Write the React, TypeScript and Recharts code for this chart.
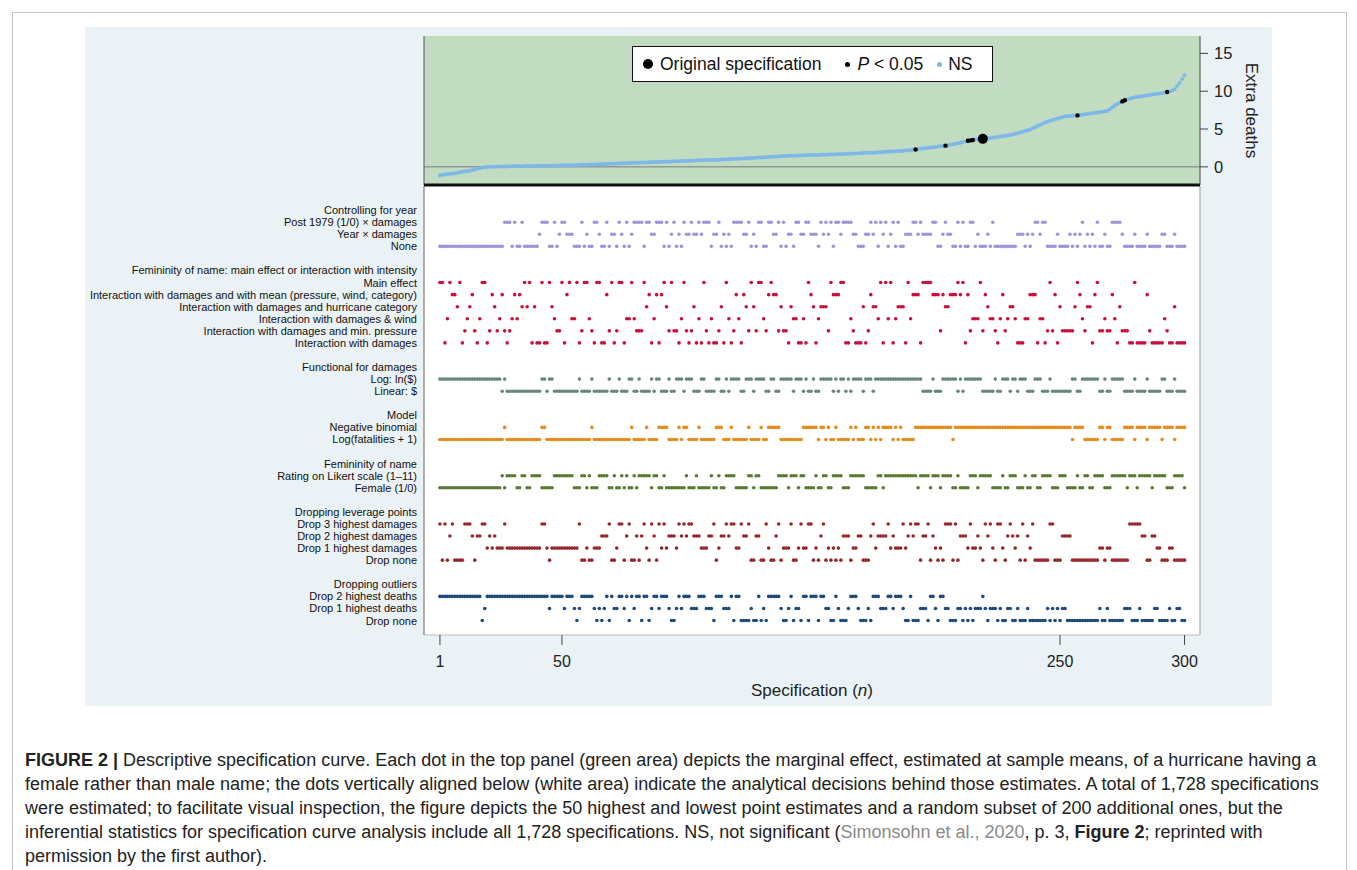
import React from "react";
import { CartesianGrid, Legend, ReferenceLine, Scatter, ScatterChart, XAxis, YAxis } from "recharts";

// x axis (specification number) and y axis (extra deaths) ticks
const specTicks = [1, 50, 250, 300];
const deathTicks = [0, 5, 10, 15];

// estimated marginal effect (extra deaths) per specification, sorted
const extraDeaths = [
  -1.15, -1.05, -1.0, -0.95, -0.9, -0.88, -0.85, -0.8, -0.72, -0.65, -0.6, -0.55, -0.5, -0.42, -0.35, -0.25, -0.17, -0.1, -0.05, -0.02,
  0.0, 0.0, 0.02, 0.03, 0.04, 0.05, 0.05, 0.06, 0.07, 0.07, 0.08, 0.08, 0.09, 0.09, 0.1, 0.1, 0.11, 0.11, 0.12, 0.12,
  0.13, 0.13, 0.14, 0.15, 0.15, 0.16, 0.17, 0.18, 0.19, 0.2, 0.21, 0.22, 0.22, 0.23, 0.24, 0.25, 0.26, 0.27, 0.28, 0.29,
  0.3, 0.31, 0.32, 0.33, 0.34, 0.35, 0.37, 0.38, 0.4, 0.41, 0.42, 0.44, 0.45, 0.46, 0.48, 0.49, 0.5, 0.52, 0.53, 0.54,
  0.55, 0.57, 0.58, 0.59, 0.6, 0.62, 0.63, 0.64, 0.65, 0.67, 0.68, 0.69, 0.7, 0.72, 0.73, 0.74, 0.75, 0.77, 0.78, 0.8,
  0.81, 0.82, 0.83, 0.85, 0.86, 0.87, 0.88, 0.89, 0.9, 0.91, 0.92, 0.93, 0.95, 0.96, 0.98, 1.0, 1.01, 1.03, 1.05, 1.06,
  1.08, 1.1, 1.11, 1.13, 1.15, 1.16, 1.18, 1.2, 1.22, 1.24, 1.26, 1.28, 1.3, 1.32, 1.34, 1.36, 1.38, 1.4, 1.42, 1.44,
  1.46, 1.47, 1.48, 1.49, 1.5, 1.51, 1.52, 1.53, 1.54, 1.55, 1.56, 1.57, 1.58, 1.59, 1.6, 1.61, 1.62, 1.63, 1.64, 1.65,
  1.66, 1.68, 1.69, 1.71, 1.72, 1.74, 1.76, 1.78, 1.8, 1.81, 1.83, 1.84, 1.85, 1.86, 1.88, 1.9, 1.92, 1.94, 1.96, 1.98,
  2.0, 2.02, 2.04, 2.06, 2.08, 2.1, 2.12, 2.15, 2.18, 2.21, 2.25, 2.3, 2.34, 2.38, 2.42, 2.46, 2.5, 2.55, 2.6, 2.64,
  2.68, 2.72, 2.76, 2.8, 2.86, 2.92, 2.98, 3.05, 3.12, 3.2, 3.28, 3.36, 3.45, 3.5, 3.55, 3.6, 3.63, 3.66, 3.7, 3.75,
  3.78, 3.82, 3.86, 3.9, 3.95, 4.0, 4.05, 4.1, 4.15, 4.2, 4.28, 4.36, 4.45, 4.55, 4.65, 4.75, 4.85, 4.95, 5.1, 5.25,
  5.4, 5.55, 5.7, 5.85, 6.0, 6.1, 6.2, 6.3, 6.4, 6.5, 6.6, 6.65, 6.7, 6.72, 6.75, 6.78, 6.8, 6.85, 6.9, 6.95,
  7.0, 7.05, 7.1, 7.15, 7.2, 7.25, 7.3, 7.35, 7.4, 7.6, 7.85, 8.1, 8.3, 8.5, 8.65, 8.8, 8.9, 9.0, 9.1, 9.2,
  9.25, 9.3, 9.35, 9.4, 9.45, 9.5, 9.55, 9.6, 9.65, 9.7, 9.75, 9.8, 9.9, 9.95, 10.1, 10.3, 10.7, 11.1, 11.6, 12.1,
];
const significantSpecs = [192, 204, 213, 214, 215, 257, 275, 276, 293];
const originalSpec = 219;

// labels of the decision panel, top to bottom ("" = blank line)
const rowLabels = [
  "Controlling for year",
  "Post 1979 (1/0) × damages",
  "Year × damages",
  "None",
  "",
  "Femininity of name: main effect or interaction with intensity",
  "Main effect",
  "Interaction with damages and with mean (pressure, wind, category)",
  "Interaction with damages and hurricane category",
  "Interaction with damages & wind",
  "Interaction with damages and min. pressure",
  "Interaction with damages",
  "",
  "Functional for damages",
  "Log:  ln($)",
  "Linear: $",
  "",
  "Model",
  "Negative binomial",
  "Log(fatalities + 1)",
  "",
  "Femininity of name",
  "Rating on Likert scale (1–11)",
  "Female (1/0)",
  "",
  "Dropping leverage points",
  "Drop 3 highest damages",
  "Drop 2 highest damages",
  "Drop 1 highest damages",
  "Drop none",
  "",
  "Dropping outliers",
  "Drop 2 highest deaths",
  "Drop 1 highest deaths",
  "Drop none",
];

const groupHeaders = [
  "Controlling for year",
  "Femininity of name: main effect or interaction with intensity",
  "Functional for damages",
  "Model",
  "Femininity of name",
  "Dropping leverage points",
  "Dropping outliers",
];

// chosen option (1 = first row under the header) for specifications 1..300
const yearChoice =
  "3333333333 3333333333 3333331113 1331333333 2111331321 1222333132 3311233132 2312313211 1131122111 3132132312 " +
  "2122121113 2213232311 1122132311 3311221313 2231122112 2231212131 1211112233 3221213121 3213133222 1121222211 " +
  "3321223313 1331132333 2313333333 3322232321 1211333323 3332323213 2323133233 1111233332 3333233333 2233323333";
const femininityChoice =
  "1164122316 5432564116 5235425654 2423131636 6166134551 6214416511 4561166251 6511644145 5513264262 1351556415 " +
  "6536461564 6653614652 4623513511 4521225355 6344664612 3643335122 2116645666 3652334161 4164333614 2226111122 " +
  "2523322212 1625444152 3445642543 3466644222 6446515263 5555531245 3362155455 2463555661 6666256666 6456636666";
const damagesChoice =
  "1111111111 1111111111 1111121222 2222222222 2112112222 2222221222 2122222212 2212221122 1222212112 2212211121 " +
  "1122211222 2112212111 1221112111 1221122111 1121112122 1221111121 2112121111 2111211111 1111111111 1111222212 " +
  "2211111121 2111111122 2221221112 1121112221 1122212222 2222112211 1111122122 1111122221 2222122222 1122212222";
const modelChoice =
  "2222222222 2222222222 2222221222 2222222222 2112222222 2222222222 2122222222 2222222122 2221222211 1122221211 " +
  "2222122222 2111222122 2222122221 2211111222 2222221111 1121121221 2222212122 2112121211 1121212222 2111111111 " +
  "1111112111 1111111111 1111111111 1111111111 1111111111 1111211112 2222211211 2222211112 1111211111 2111121111";
const nameChoice =
  "2222222222 2222222222 2222212111 1221122111 1222221111 1111222112 1222111122 1221212212 1111121122 1222222221 " +
  "2221222221 2212211112 2222112112 2222221111 2111211222 2122112211 1122211111 1222221121 1111111111 1121111211 " +
  "1211112212 2221112111 1122221221 1122212211 2211112221 1122221221 1221111222 1111112111 2111112111 1122211112";
const leverageChoice =
  "1414214444 1112422113 2323331333 3333333333 3113433333 3333331443 4433322214 4311421442 4213412413 1322231212 " +
  "1122233322 1432212113 3122144224 4134421433 3144313311 4342143434 3422243322 4442132222 1323331321 2114221423 " +
  "4341114142 2231332341 2134113421 2324142314 4444411444 2222444444 4444433433 4444444111 1122442233 4443344444";
const outlierChoice =
  "1111111111 1111111321 1111111111 1111111111 1111211111 2111232111 1123232131 2211213121 1311321121 1123321211 " +
  "1222111222 3111222131 1333323313 2311111233 2132231131 1131122331 2333211123 3323111222 1121112331 3332223112 " +
  "3112233322 3232322212 3222323322 3323332333 3333232323 2233333333 3333323323 3333322233 3233333223 3332332233";

const groupChoices = [yearChoice, femininityChoice, damagesChoice, modelChoice, nameChoice, leverageChoice, outlierChoice];
const groupColors = ["#9d95d9", "#c8103c", "#66877c", "#e48c1e", "#5a7a32", "#96282d", "#1e4b78"];

const curvePoints = extraDeaths.map((value, i) => ({ spec: i + 1, value }));
const nsPoints = curvePoints.filter((p) => p.spec !== originalSpec && !significantSpecs.includes(p.spec));
const sigPoints = curvePoints.filter((p) => significantSpecs.includes(p.spec));
const originalPoints = curvePoints.filter((p) => p.spec === originalSpec);

const slotTicks = rowLabels.map((_, i) => i);
const decisionPoints = groupHeaders.map((header, g) => {
  const base = rowLabels.indexOf(header);
  return groupChoices[g]
    .replace(/\s/g, "")
    .split("")
    .map((c, i) => ({ spec: i + 1, slot: base + Number(c) }));
});

const specDomain: [number, number] = [-5.4, 306.2];
const FONT = '"Liberation Sans", Arial, Helvetica, sans-serif';

const dot = (r: number, color: string) => (props: any) =>
  <circle cx={props.cx} cy={props.cy} r={r} fill={color} />;

// row labels drawn as single-line text (no wrapping)
const renderRowTick = (props: any) => (
  <text x={props.x} y={props.y} textAnchor="end" dominantBaseline="central" fontSize={11} fill="#111">
    {rowLabels[props.payload.value] ?? ""}
  </text>
);

const renderExtraDeaths = (props: any) => {
  const vb = props.viewBox;
  const cx = vb.x + vb.width + 1;
  const cy = vb.y + vb.height / 2;
  return (
    <text x={cx} y={cy} transform={`rotate(90 ${cx} ${cy})`} textAnchor="middle" dominantBaseline="central" fontSize={17} fill="#222">
      Extra deaths
    </text>
  );
};

const renderSpecLabel = (props: any) => {
  const vb = props.viewBox;
  return (
    <text x={vb.x + vb.width / 2} y={vb.y + 55} textAnchor="middle" dominantBaseline="central" fontSize={17} fill="#222">
      Specification (<tspan fontStyle="italic">n</tspan>)
    </text>
  );
};

const legendDot = (size: number, color: string) => (
  <span style={{ display: "inline-block", width: size, height: size, borderRadius: "50%", background: color }} />
);

const renderLegend = () => (
  <div
    style={{
      boxSizing: "border-box",
      width: 361,
      height: 36,
      border: "1px solid #111",
      background: "#fff",
      display: "flex",
      alignItems: "center",
      fontSize: 17.5,
      color: "#111",
      fontFamily: FONT,
      whiteSpace: "nowrap",
    }}
  >
    <span style={{ marginLeft: 10, marginRight: 7, display: "flex" }}>{legendDot(10, "#000")}</span>
    <span>Original specification</span>
    <span style={{ marginLeft: 24, marginRight: 7, display: "flex" }}>{legendDot(5, "#000")}</span>
    <span>
      <i>P</i> &lt; 0.05
    </span>
    <span style={{ marginLeft: 14, marginRight: 6, display: "flex" }}>{legendDot(5, "#7db8e8")}</span>
    <span>NS</span>
  </div>
);

const App = () => {
  return (
    <div style={{ position: "absolute", left: 0, top: 0, width: 1357, height: 870, fontFamily: FONT, background: "#fff", overflow: "hidden" }}>
      <div style={{ position: "absolute", left: 12, top: 12, width: 1333, height: 900, border: "1px solid #c4c4c4" }} />
      <div style={{ position: "absolute", left: 85, top: 27, width: 1187, height: 679, background: "#eaf2f5" }} />

      <div style={{ position: "absolute", left: 0, top: 0 }}>
        <ScatterChart width={1357} height={710} margin={{ top: 186, right: 157, bottom: 0, left: 0 }}>
          <CartesianGrid horizontal={false} vertical={false} fill="#ffffff" fillOpacity={1} />
          <XAxis
            type="number"
            dataKey="spec"
            domain={specDomain}
            allowDataOverflow
            ticks={specTicks}
            interval={0}
            height={75}
            tickSize={10}
            tickMargin={11}
            axisLine={{ stroke: "#bbbbbb" }}
            tickLine={{ stroke: "#444" }}
            tick={{ fontSize: 16, fill: "#222" }}
            label={renderSpecLabel}
          />
          <YAxis
            type="number"
            dataKey="slot"
            domain={[-2, 35.2]}
            allowDataOverflow
            reversed
            ticks={slotTicks}
            interval={0}
            width={424}
            tickSize={0}
            tickMargin={7}
            tickLine={false}
            axisLine={{ stroke: "#666" }}
            tick={renderRowTick}
          />
          <ReferenceLine x={specDomain[1]} stroke="#999" />
          {decisionPoints.map((pts, g) => (
            <Scatter key={groupHeaders[g]} data={pts} fill={groupColors[g]} shape={dot(1.8, groupColors[g])} isAnimationActive={false} />
          ))}
        </ScatterChart>
      </div>

      <div style={{ position: "absolute", left: 0, top: 0 }}>
        <ScatterChart width={1357} height={200} margin={{ top: 36, right: 107, bottom: 15, left: 424 }}>
          <CartesianGrid horizontal={false} vertical={false} fill="#c2dcc2" fillOpacity={1} />
          <XAxis type="number" dataKey="spec" domain={specDomain} allowDataOverflow hide />
          <YAxis
            orientation="right"
            type="number"
            dataKey="value"
            domain={[-2.4, 17.3]}
            allowDataOverflow
            ticks={deathTicks}
            width={50}
            tickSize={8}
            tickMargin={6}
            axisLine={{ stroke: "#444" }}
            tickLine={{ stroke: "#444" }}
            tick={{ fontSize: 16.5, fill: "#222" }}
            label={renderExtraDeaths}
          />
          <ReferenceLine y={0} stroke="#7a7a7a" />
          <ReferenceLine x={specDomain[0]} stroke="#555" />
          <ReferenceLine y={-2.4} stroke="#111" strokeWidth={3} />
          <Legend
            layout="horizontal"
            verticalAlign="middle"
            align="center"
            content={renderLegend}
            wrapperStyle={{ left: 632, top: 46, width: 361, height: 36 }}
          />
          <Scatter name="NS" data={nsPoints} fill="#7db8e8" shape={dot(2, "#7db8e8")} isAnimationActive={false} />
          <Scatter name="P < 0.05" data={sigPoints} fill="#000" shape={dot(2.2, "#000")} isAnimationActive={false} />
          <Scatter name="Original specification" data={originalPoints} fill="#000" shape={dot(5, "#000")} isAnimationActive={false} />
        </ScatterChart>
      </div>

      <div style={{ position: "absolute", left: 25, top: 748, fontSize: 18, lineHeight: "24px", color: "#222", whiteSpace: "nowrap" }}>
        <div>
          <b>FIGURE 2 |</b> Descriptive specification curve. Each dot in the top panel (green area) depicts the marginal effect, estimated at sample means, of a hurricane having a
        </div>
        <div>
          female rather than male name; the dots vertically aligned below (white area) indicate the analytical decisions behind those estimates. A total of 1,728 specifications
        </div>
        <div>
          were estimated; to facilitate visual inspection, the figure depicts the 50 highest and lowest point estimates and a random subset of 200 additional ones, but the
        </div>
        <div>
          inferential statistics for specification curve analysis include all 1,728 specifications. NS, not significant (
          <span style={{ color: "#8a8a8a" }}>Simonsohn et al., 2020</span>, p. 3, <b>Figure 2</b>; reprinted with
        </div>
        <div>permission by the first author).</div>
      </div>
    </div>
  );
};

export default App;
